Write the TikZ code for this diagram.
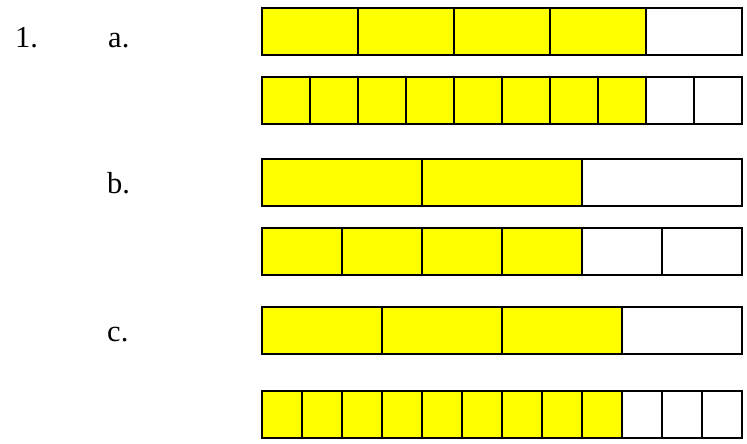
\documentclass[tikz,border=0pt]{standalone}
\usepackage{fontspec}
\setmainfont{Liberation Serif}
\usetikzlibrary{positioning}
\definecolor{shade}{HTML}{FFFF00}

\tikzset{
  cell/.style={draw=black,line width=1.6pt,inner sep=0pt,outer sep=0pt,anchor=north west,minimum height=1.41cm},
  lbl/.style={anchor=base west,inner sep=0pt,font=\fontsize{26}{30}\selectfont}
}

\begin{document}
\begin{tikzpicture}[x=0.03cm,y=-0.03cm]
\useasboundingbox (0,0) rectangle (747,444);
\node[lbl] (num) at (15,47) {1.};
\node[lbl] (la) at (108,47) {a.};
\node[lbl] (lb) at (107,193) {b.};
\node[lbl] (lc) at (107,341) {c.};
% bars: name/top/parts/shaded
\foreach \row/\top/\n/\k in {a1/8/5/4,a2/77/10/8,b1/159/3/2,b2/228/6/4,c1/307/4/3,c2/391/12/9}{
  \pgfmathsetmacro\w{480/\n}
  \foreach \i in {1,...,\n}{
    \ifnum\i>\k\def\col{white}\else\def\col{shade}\fi
    \node[cell,fill=\col,minimum width=0.03cm*\w] (\row-\i) at ({262+(\i-1)*\w},\top) {};
  }
}
\end{tikzpicture}
\end{document}
